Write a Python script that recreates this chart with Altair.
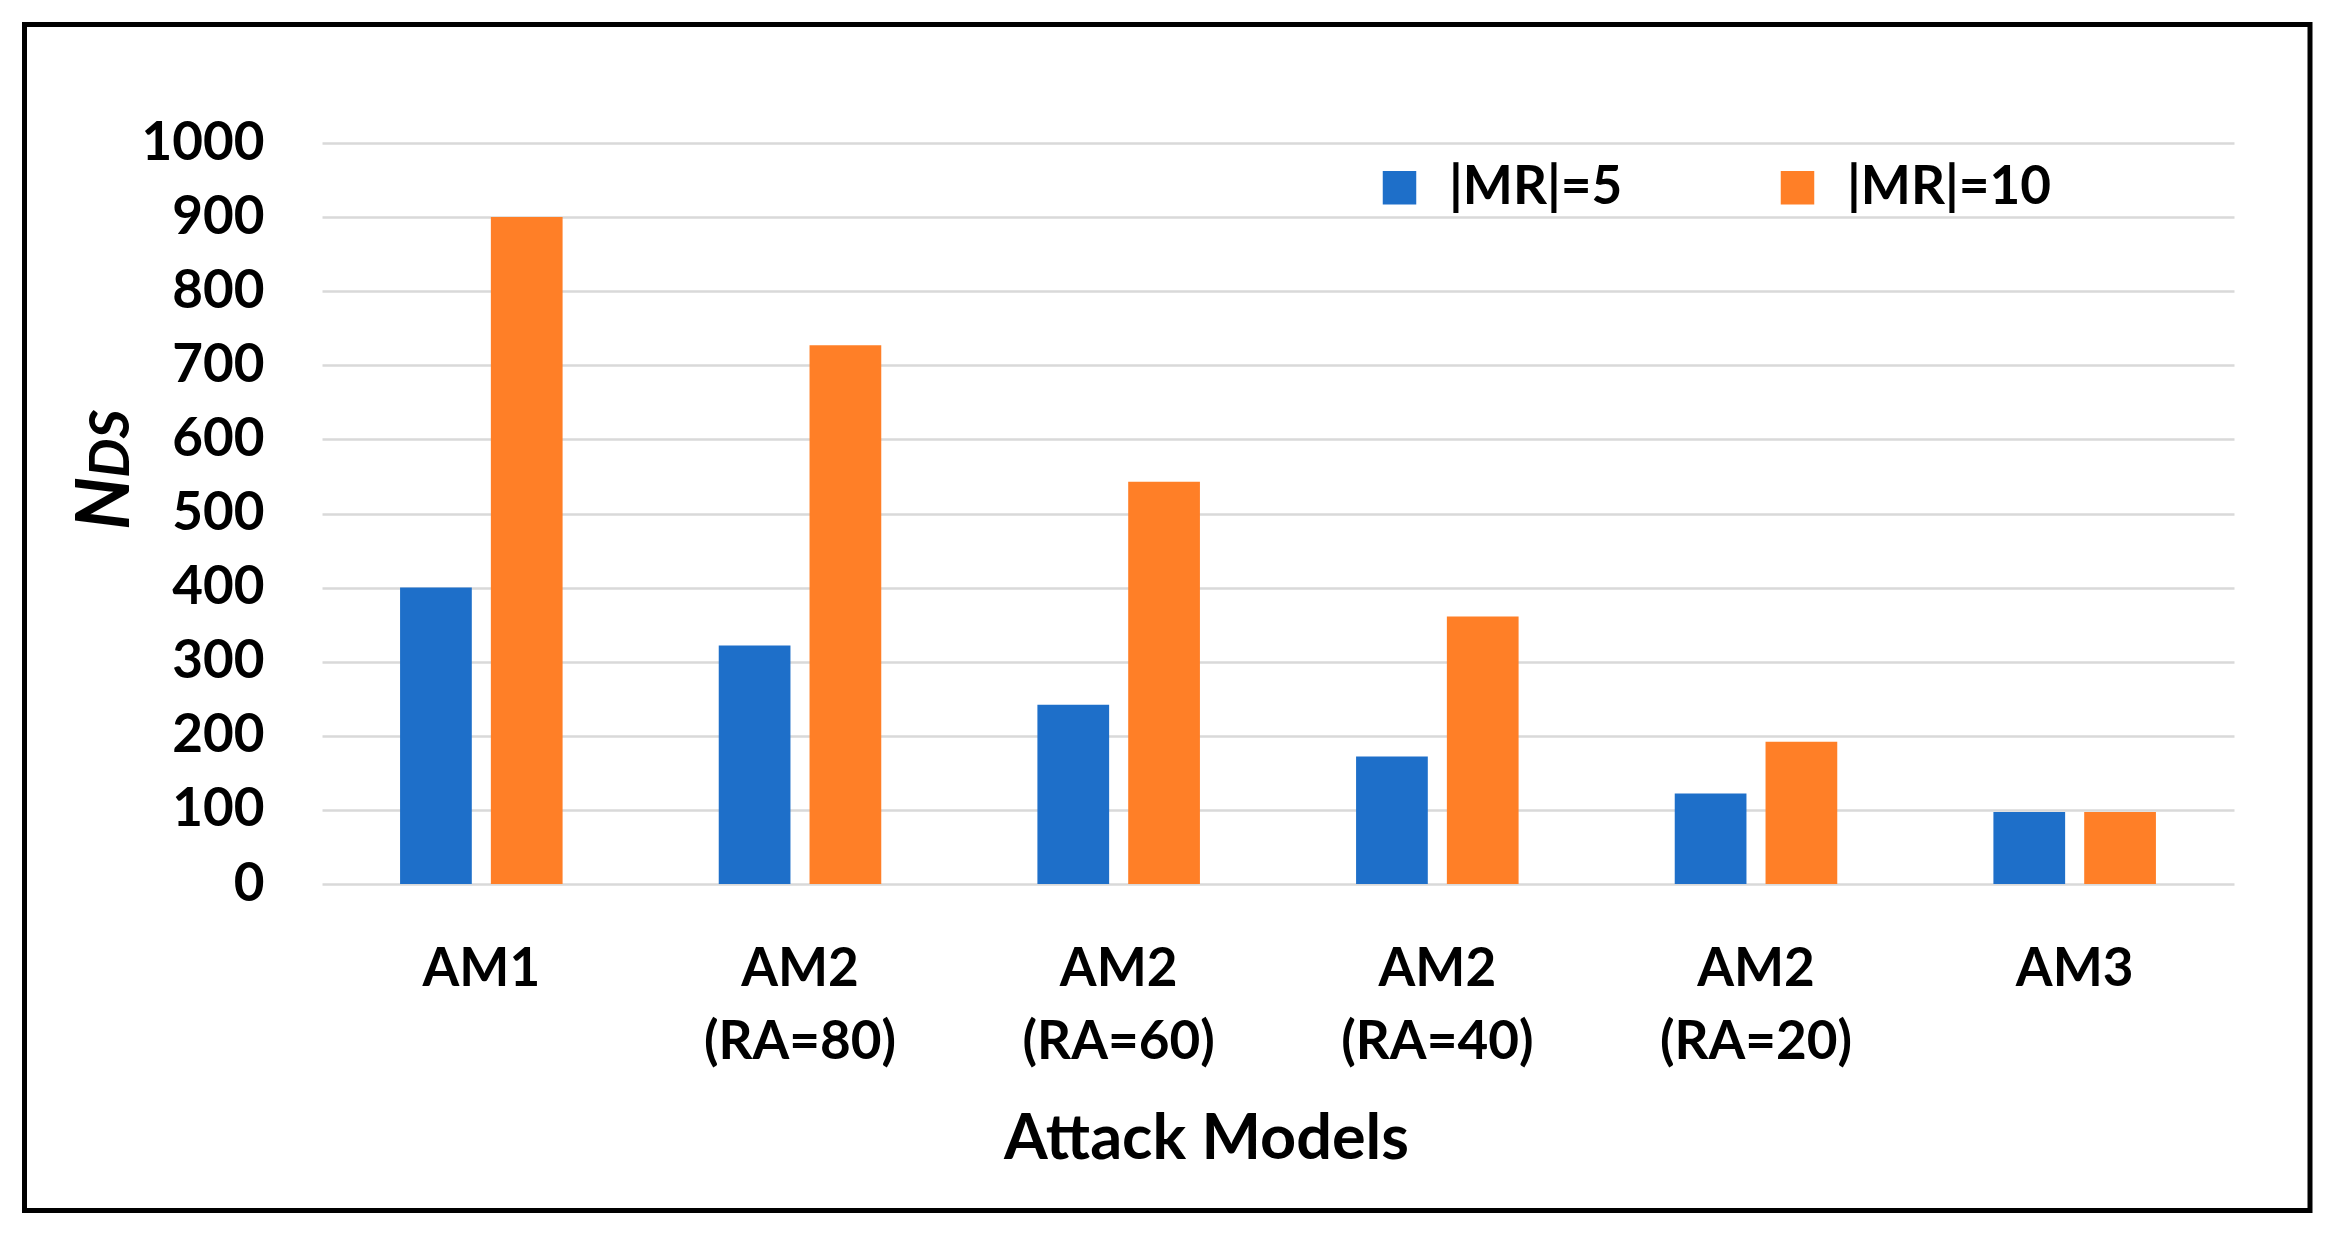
import altair as alt
import pandas as pd

# ---- data ----
categories = ["AM1", "AM2\n(RA=80)", "AM2\n(RA=60)", "AM2\n(RA=40)", "AM2\n(RA=20)", "AM3"]
series = ["|MR|=5", "|MR|=10"]
mr5 = [400, 322, 242, 172, 122, 97]
mr10 = [900, 727, 543, 361, 192, 97]
y_ticks = [0, 100, 200, 300, 400, 500, 600, 700, 800, 900, 1000]
colors = ["#1E6FC9", "#FF7F27"]

rows = []
for c, a, b in zip(categories, mr5, mr10):
    rows.append({"model": c, "series": series[0], "value": a})
    rows.append({"model": c, "series": series[1], "value": b})
df = pd.DataFrame(rows)

W, H = 1912, 741
FONT = "Lato"

bars = alt.Chart(df).mark_bar().encode(
    x=alt.X(
        "model:N",
        sort=categories,
        scale=alt.Scale(paddingInner=0.49, paddingOuter=0.245),
        axis=alt.Axis(
            title="Attack Models",
            labelExpr="split(datum.label, '\\n')",
            labelFont=FONT, labelFontSize=53, labelFontWeight="bold", labelColor="black",
            labelAngle=0, labelLineHeight=73, labelBaseline="alphabetic", labelPadding=101,
            labelOverlap=False, labelLimit=600,
            ticks=False, tickSize=0, domain=False, grid=False,
            titleFont=FONT, titleFontSize=63, titleFontWeight="bold", titleColor="black",
            titleX=884, titleY=274, titleBaseline="alphabetic", titleAlign="center",
        ),
    ),
    xOffset=alt.XOffset("series:N", sort=series, scale=alt.Scale(paddingInner=0.21)),
    y=alt.Y(
        "value:Q",
        scale=alt.Scale(domain=[0, 1000], nice=False),
        axis=alt.Axis(
            values=y_ticks, title=None, format="d",
            labelFont=FONT, labelFontSize=53, labelFontWeight="bold", labelColor="black",
            labelPadding=58, labelOverlap=False, labelBaseline="middle",
            ticks=False, tickSize=0, domain=False,
            grid=True, gridColor="#D9D9D9", gridWidth=2.5,
        ),
    ),
    color=alt.Color(
        "series:N",
        sort=series,
        scale=alt.Scale(domain=series, range=colors),
        legend=alt.Legend(
            title=None, orient="none", legendX=1051, legendY=18, direction="horizontal",
            symbolType="square", symbolSize=1122, symbolStrokeWidth=0, symbolOpacity=1,
            labelFont=FONT, labelFontSize=53, labelFontWeight="bold", labelColor="black",
            labelOffset=23, columnPadding=148, padding=0, labelLimit=600,
        ),
    ),
)

one = pd.DataFrame({"t": ["N"]})
ytitle_n = alt.Chart(one).mark_text(
    angle=270, align="left", baseline="alphabetic", font=FONT, fontWeight="bold",
    fontStyle="italic", fontSize=74, color="black",
).encode(text=alt.value("N"), x=alt.value(-193), y=alt.value(387))

ytitle_ds = alt.Chart(one).mark_text(
    angle=270, align="left", baseline="alphabetic", font=FONT, fontWeight="bold",
    fontStyle="italic", fontSize=56, color="black",
).encode(text=alt.value("DS"), x=alt.value(-193), y=alt.value(335))

border = alt.Chart(one).mark_rect(
    filled=False, stroke="black", strokeWidth=5, clip=False
).encode(x=alt.value(-297.5), x2=alt.value(1988), y=alt.value(-118.5), y2=alt.value(1067.5))

chart = alt.layer(bars, ytitle_n, ytitle_ds, border).properties(
    width=W,
    height=H,
    padding={"left": 314, "top": 135, "right": 86, "bottom": 344},
    autosize=alt.AutoSizeParams(type="none"),
    background="white",
).configure_view(stroke=None)

chart.save("out.html", embed_options={"renderer": "svg", "actions": False})
